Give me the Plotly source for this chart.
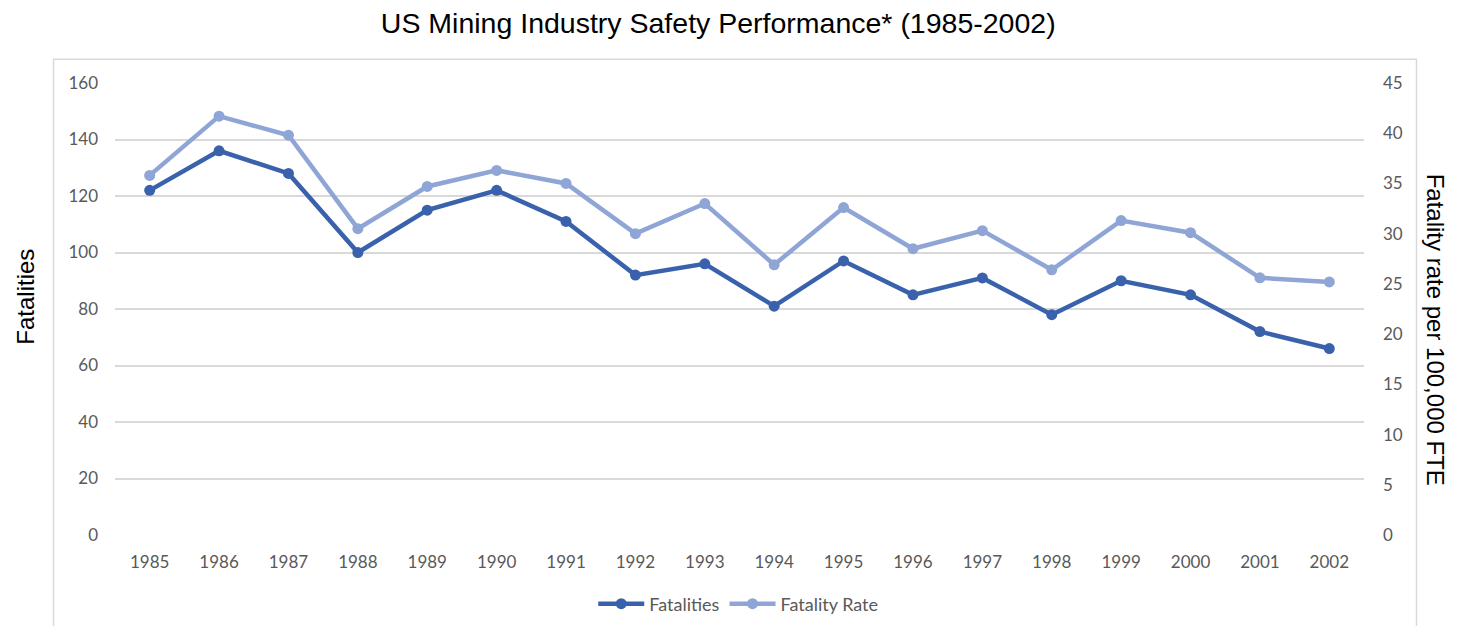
import plotly.graph_objects as go

years = [str(y) for y in range(1985, 2003)]
fatalities = [122, 136, 128, 100, 115, 122, 111, 92, 96, 81, 97, 85, 91, 78, 90, 85, 72, 66]
fatality_rate = [35.8, 41.7, 39.8, 30.5, 34.7, 36.3, 35.0, 30.0, 33.0, 26.9, 32.6, 28.5, 30.3, 26.4, 31.3, 30.1, 25.6, 25.2]
left_ticks = list(range(0, 161, 20))
right_ticks = list(range(0, 46, 5))

dark = "#3A62AC"
light = "#8FA5D6"
tick_font = dict(family="Lato, Carlito, sans-serif", size=17, color="#595959")

# page body has an 8px margin; work in figure coordinates = reference - 8
W, H = 1442, 618
L, T = 106.5, 74.7
PW, PH = 1249.5, 452.3
B0 = T + PH  # y of plot bottom in figure px


def px(x):
    return (x - L) / PW


def py(y):
    return (B0 - y) / PH


fig = go.Figure()
fig.add_trace(go.Scatter(x=years, y=fatalities, name="Fatalities", mode="lines+markers",
                         line=dict(color=dark, width=4.5), marker=dict(color=dark, size=11),
                         yaxis="y"))
fig.add_trace(go.Scatter(x=years, y=fatality_rate, name="Fatality Rate", mode="lines+markers",
                         line=dict(color=light, width=4.5), marker=dict(color=light, size=11),
                         yaxis="y2"))

fig.update_layout(
    width=W, height=H,
    margin=dict(l=L, r=W - L - PW, t=T, b=H - B0, autoexpand=False),
    plot_bgcolor="white", paper_bgcolor="white",
    title=dict(text="US Mining Industry Safety Performance* (1985-2002)",
               x=px(710), xref="paper", xanchor="center", y=1 - 15.5 / H, yanchor="middle",
               font=dict(family="Liberation Sans, Arial, sans-serif", size=28.5, color="#000000")),
    xaxis=dict(type="category", range=[-0.5, 17.5], showgrid=False, showline=False,
               ticks="", tickfont=tick_font, ticklabelstandoff=15),
    yaxis=dict(range=[0, 160], tickvals=left_ticks, showgrid=True, gridcolor="#D9D9D9",
               gridwidth=1.5, zeroline=False, showline=False, ticks="", tickfont=tick_font,
               ticklabelstandoff=16),
    yaxis2=dict(range=[0, 45], tickvals=right_ticks, overlaying="y", side="right",
                showgrid=False, zeroline=False, showline=False, ticks="", tickfont=tick_font,
                ticklabelstandoff=18),
    legend=dict(orientation="h", x=px(730), xanchor="center", y=py(596), yanchor="middle",
                font=dict(family="Lato, Carlito, sans-serif", size=18, color="#595959"),
                itemwidth=46, traceorder="normal"),
    showlegend=True,
)

fig.add_annotation(text="Fatalities", xref="paper", yref="paper", x=px(17), y=py(289),
                   xanchor="center", yanchor="middle", textangle=-90, showarrow=False,
                   font=dict(family="Liberation Sans, Arial, sans-serif", size=24, color="#000000"))
fig.add_annotation(text="Fatality rate per 100,000 FTE", xref="paper", yref="paper",
                   x=px(1427.5), y=py(322), xanchor="center", yanchor="middle",
                   textangle=90, showarrow=False,
                   font=dict(family="Liberation Sans, Arial, sans-serif", size=24, color="#000000"))

fig.add_shape(type="rect", xref="paper", yref="paper",
              x0=px(45), x1=px(1408.5), y0=py(700), y1=py(51),
              line=dict(color="#D9D9D9", width=1.5), layer="below")

fig.write_html("out.html")
